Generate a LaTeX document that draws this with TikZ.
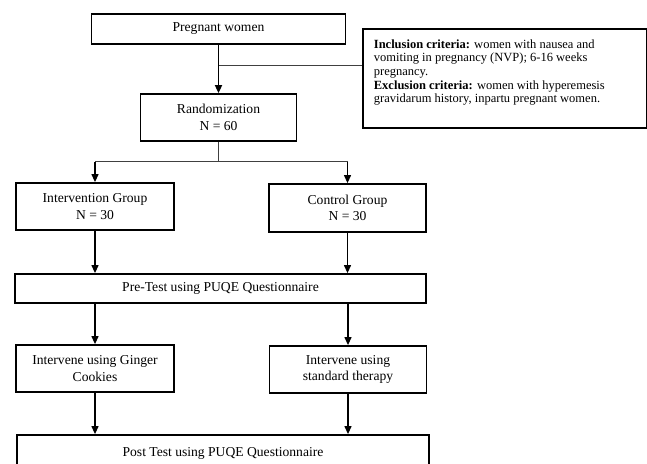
\documentclass[tikz,border=0pt]{standalone}
\usepackage{fontspec}
\setmainfont{Liberation Serif}
\usepackage{tikz}
\usetikzlibrary{arrows.meta}
\tikzset{flowbox/.style={draw, line width=1.8pt, align=center, inner sep=2pt,
        font=\fontsize{13.6}{16.5}\selectfont},
    critbox/.style={draw, line width=1.8pt, anchor=north west,
        inner xsep=11pt, inner ysep=0pt,
        font=\fontsize{12.5}{13.7}\selectfont},
    link/.style={line width=1.2pt, -{Triangle[length=8pt,width=7pt]}},
    plain/.style={line width=1pt, draw=black!75}}

\begin{document}
\begin{tikzpicture}[x=1pt, y=-1pt]
        \useasboundingbox (0,0) rectangle (647,463);
        \node[flowbox, minimum width=254pt, minimum height=30pt] (preg) at (218.5,29) {Pregnant women};
        \node[critbox] (crit) at (362,28)
            {\parbox[t][99pt][t]{262pt}{\vspace*{10.5pt}\textbf{Inclusion criteria:} women with nausea and\\
            vomiting in pregnancy (NVP); 6-16 weeks\\
            pregnancy.\\
            \textbf{Exclusion criteria:} women with hyperemesis\\
            gravidarum history, inpartu pregnant women.}};
        \node[flowbox, minimum width=156pt, minimum height=47pt] (rand) at (218.5,117.5) {Randomization\\N = 60};
        \node[flowbox, minimum width=158pt, minimum height=47pt] (intv) at (95,206.5) {Intervention Group\\N = 30};
        \node[flowbox, minimum width=157pt, minimum height=48pt] (ctrl) at (347.5,208) {Control Group\\N = 30};
        \node[flowbox, minimum width=411pt, minimum height=29pt] (pre) at (220.5,288.5) {Pre-Test using PUQE Questionnaire};
        \node[flowbox, minimum width=158pt, minimum height=47pt] (ginger) at (95,368.5) {Intervene using Ginger\\Cookies};
        \node[flowbox, minimum width=157pt, minimum height=47pt] (std) at (348,369.5) {Intervene using\\standard therapy};
        \node[flowbox, minimum width=412pt, minimum height=36pt] (post) at (223,453) {Post Test using PUQE Questionnaire};

        \coordinate (tap) at (218.5,65);
        \coordinate (split) at (218.5,161.5);
        \draw[link, line width=1.8pt] (preg) -- (rand);
        \draw[plain] (tap) -- (crit.west |- tap);
        \draw[plain] (rand.south) -- (split);
        \draw[plain] (intv.north |- split) -- (ctrl.north |- split);
        \draw[link] (intv.north |- split) -- (intv.north);
        \draw[link] (ctrl.north |- split) -- (ctrl.north);
        \draw[link] (intv.south) -- (intv.south |- pre.north);
        \draw[link] (ctrl.south) -- (ctrl.south |- pre.north);
        \draw[link] (pre.south -| ginger) -- (ginger.north);
        \draw[link] (pre.south -| std) -- (std.north);
        \draw[link] (ginger.south) -- (ginger.south |- post.north);
        \draw[link] (std.south) -- (std.south |- post.north);
    \end{tikzpicture}
\end{document}
